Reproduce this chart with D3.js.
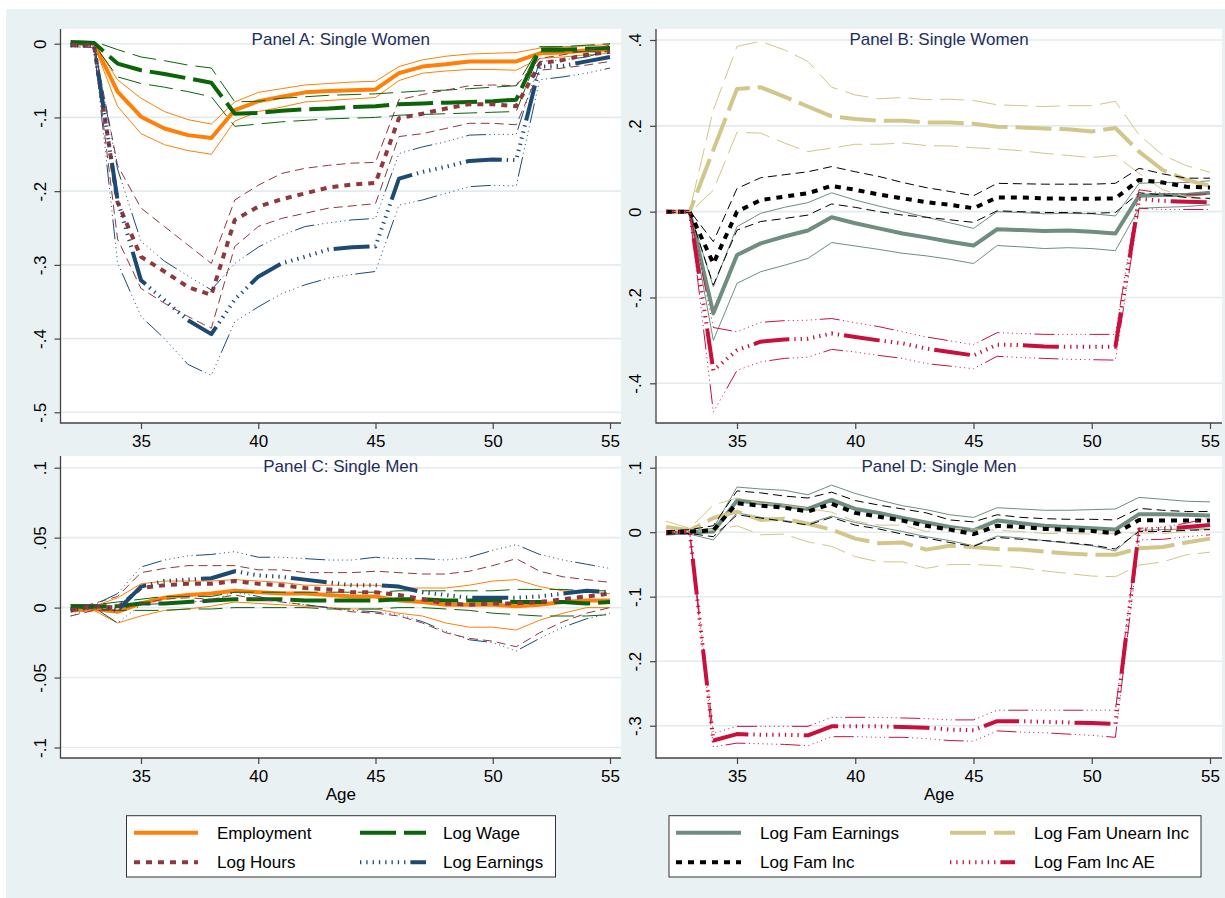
<!DOCTYPE html>
<html>
<head>
<meta charset="utf-8">
<script src="https://cdn.jsdelivr.net/npm/d3@7"></script>
<style>
  body { margin: 0; background: #fff; }
  svg { display: block; font-family: "Liberation Sans", Arial, Helvetica, sans-serif; }
</style>
</head>
<body>
<div id="chart"></div>
<script>

// Ages on the x axis (event time around the shock)
const ages = [32, 33, 34, 35, 36, 37, 38, 39, 40, 41, 42, 43, 44, 45, 46, 47, 48, 49, 50, 51, 52, 53, 54, 55];
const xTicks = [35, 40, 45, 50, 55];

const yTicksA = [0, -0.1, -0.2, -0.3, -0.4, -0.5];
const yTicksB = [0.4, 0.2, 0, -0.2, -0.4];
const yTicksC = [0.1, 0.05, 0, -0.05, -0.1];
const yTicksD = [0.1, 0, -0.1, -0.2, -0.3];

// Panel A: Single Women (own labour outcomes)
const empA    = [0, 0, -0.065, -0.099, -0.115, -0.124, -0.128, -0.090, -0.078, -0.072, -0.066, -0.064, -0.063, -0.062, -0.040, -0.031, -0.028, -0.024, -0.024, -0.024, -0.013, -0.012, -0.009, -0.008];
const empA_hi = [0.001, 0.001, -0.049, -0.074, -0.092, -0.103, -0.109, -0.079, -0.066, -0.061, -0.056, -0.054, -0.052, -0.051, -0.031, -0.022, -0.017, -0.014, -0.013, -0.012, -0.006, -0.004, -0.003, -0.001];
const empA_lo = [-0.001, -0.002, -0.085, -0.122, -0.137, -0.145, -0.150, -0.105, -0.092, -0.086, -0.079, -0.077, -0.075, -0.073, -0.050, -0.040, -0.037, -0.035, -0.035, -0.036, -0.020, -0.018, -0.015, -0.013];

const wageA    = [0.002, 0.001, -0.027, -0.036, -0.041, -0.047, -0.053, -0.095, -0.094, -0.091, -0.089, -0.088, -0.086, -0.085, -0.082, -0.081, -0.080, -0.079, -0.078, -0.076, -0.008, -0.008, -0.007, -0.006];
const wageA_hi = [0.004, 0.003, -0.008, -0.018, -0.023, -0.029, -0.033, -0.079, -0.078, -0.074, -0.072, -0.070, -0.069, -0.068, -0.066, -0.064, -0.063, -0.061, -0.059, -0.057, -0.004, -0.004, -0.002, 0.000];
const wageA_lo = [0.000, -0.001, -0.045, -0.054, -0.059, -0.065, -0.072, -0.112, -0.109, -0.106, -0.104, -0.102, -0.101, -0.100, -0.097, -0.096, -0.095, -0.094, -0.093, -0.092, -0.011, -0.011, -0.011, -0.011];

const hoursA    = [-0.002, -0.003, -0.215, -0.289, -0.309, -0.330, -0.341, -0.239, -0.221, -0.211, -0.203, -0.195, -0.191, -0.189, -0.101, -0.095, -0.088, -0.082, -0.082, -0.085, -0.027, -0.022, -0.015, -0.011];
const hoursA_hi = [0.000, -0.001, -0.165, -0.223, -0.248, -0.273, -0.298, -0.212, -0.192, -0.176, -0.169, -0.165, -0.162, -0.161, -0.076, -0.069, -0.063, -0.057, -0.056, -0.057, -0.020, -0.015, -0.009, -0.002];
const hoursA_lo = [-0.004, -0.005, -0.265, -0.332, -0.352, -0.370, -0.386, -0.275, -0.248, -0.237, -0.230, -0.223, -0.220, -0.217, -0.126, -0.122, -0.115, -0.108, -0.108, -0.110, -0.036, -0.033, -0.029, -0.024];

const earnA    = [-0.002, -0.003, -0.212, -0.321, -0.348, -0.375, -0.394, -0.347, -0.316, -0.298, -0.289, -0.279, -0.276, -0.275, -0.183, -0.174, -0.167, -0.159, -0.157, -0.158, -0.031, -0.030, -0.024, -0.018];
const earnA_hi = [0.000, -0.001, -0.170, -0.268, -0.295, -0.315, -0.334, -0.298, -0.276, -0.260, -0.248, -0.243, -0.239, -0.237, -0.149, -0.140, -0.133, -0.124, -0.123, -0.123, -0.024, -0.022, -0.018, -0.009];
const earnA_lo = [-0.004, -0.005, -0.297, -0.370, -0.400, -0.435, -0.450, -0.377, -0.357, -0.339, -0.327, -0.318, -0.313, -0.309, -0.219, -0.212, -0.203, -0.194, -0.192, -0.193, -0.049, -0.045, -0.040, -0.033];

// Panel B: Single Women (family income)
const famEarnB    = [0, 0, -0.237, -0.101, -0.074, -0.058, -0.044, -0.013, -0.027, -0.039, -0.051, -0.060, -0.070, -0.079, -0.041, -0.043, -0.045, -0.044, -0.047, -0.051, 0.037, 0.039, 0.039, 0.044];
const famEarnB_hi = [0.002, 0.002, -0.175, -0.035, -0.004, 0.010, 0.021, 0.044, 0.027, 0.013, 0.000, -0.013, -0.026, -0.039, 0.000, -0.002, -0.005, -0.004, -0.005, -0.010, 0.066, 0.068, 0.068, 0.072];
const famEarnB_lo = [-0.002, -0.002, -0.300, -0.167, -0.140, -0.125, -0.109, -0.072, -0.080, -0.088, -0.097, -0.103, -0.111, -0.121, -0.079, -0.082, -0.086, -0.084, -0.086, -0.091, 0.008, 0.010, 0.012, 0.016];

const unearnB    = [0, 0, 0.144, 0.286, 0.290, 0.268, 0.245, 0.222, 0.216, 0.212, 0.212, 0.208, 0.208, 0.205, 0.198, 0.196, 0.194, 0.192, 0.187, 0.195, 0.140, 0.097, 0.074, 0.060];
const unearnB_hi = [0.002, 0.002, 0.237, 0.385, 0.397, 0.377, 0.350, 0.290, 0.272, 0.263, 0.266, 0.261, 0.262, 0.259, 0.249, 0.247, 0.245, 0.247, 0.247, 0.257, 0.179, 0.132, 0.107, 0.092];
const unearnB_lo = [-0.002, -0.002, 0.050, 0.185, 0.183, 0.160, 0.140, 0.148, 0.157, 0.157, 0.160, 0.154, 0.153, 0.149, 0.146, 0.142, 0.136, 0.131, 0.126, 0.131, 0.089, 0.051, 0.035, 0.027];

const famIncB    = [0, 0, -0.121, 0.000, 0.027, 0.035, 0.043, 0.060, 0.051, 0.040, 0.031, 0.022, 0.016, 0.008, 0.033, 0.033, 0.031, 0.030, 0.030, 0.031, 0.074, 0.068, 0.058, 0.056];
const famIncB_hi = [0.002, 0.002, -0.070, 0.054, 0.079, 0.086, 0.093, 0.105, 0.093, 0.082, 0.068, 0.056, 0.047, 0.037, 0.066, 0.065, 0.064, 0.064, 0.064, 0.066, 0.101, 0.088, 0.078, 0.078];
const famIncB_lo = [-0.002, -0.002, -0.171, -0.043, -0.023, -0.016, -0.008, 0.018, 0.010, 0.000, -0.008, -0.013, -0.019, -0.025, 0.002, 0.000, -0.002, -0.002, -0.004, -0.002, 0.044, 0.039, 0.033, 0.031];

const aeB    = [0, 0, -0.370, -0.323, -0.303, -0.298, -0.296, -0.284, -0.292, -0.300, -0.307, -0.319, -0.327, -0.335, -0.310, -0.311, -0.314, -0.315, -0.315, -0.315, 0.030, 0.025, 0.023, 0.022];
const aeB_hi = [0.002, 0.002, -0.270, -0.280, -0.258, -0.254, -0.253, -0.249, -0.259, -0.268, -0.280, -0.292, -0.301, -0.310, -0.282, -0.284, -0.286, -0.286, -0.286, -0.286, 0.051, 0.043, 0.040, 0.041];
const aeB_lo = [-0.002, -0.002, -0.467, -0.370, -0.350, -0.342, -0.339, -0.321, -0.327, -0.335, -0.342, -0.354, -0.360, -0.366, -0.337, -0.340, -0.342, -0.344, -0.345, -0.346, 0.008, 0.005, 0.005, 0.005];

// Panel C: Single Men (own labour outcomes)
const empC    = [-0.002, -0.001, -0.003, 0.003, 0.007, 0.009, 0.010, 0.012, 0.011, 0.010, 0.010, 0.009, 0.008, 0.008, 0.005, 0.004, 0.002, 0.002, 0.002, 0.001, 0.002, 0.004, 0.005, 0.005];
const empC_hi = [0.000, 0.001, 0.007, 0.017, 0.019, 0.019, 0.019, 0.020, 0.019, 0.018, 0.016, 0.016, 0.016, 0.016, 0.014, 0.014, 0.014, 0.016, 0.019, 0.020, 0.015, 0.012, 0.011, 0.010];
const empC_lo = [-0.003, -0.002, -0.011, -0.006, -0.002, -0.001, 0.001, 0.004, 0.003, 0.002, 0.001, 0.000, -0.001, -0.001, -0.004, -0.006, -0.011, -0.014, -0.014, -0.016, -0.009, -0.004, 0.000, 0.000];

const wageC    = [0.001, 0.001, 0.001, 0.003, 0.003, 0.004, 0.005, 0.006, 0.006, 0.006, 0.005, 0.005, 0.005, 0.005, 0.006, 0.006, 0.005, 0.005, 0.005, 0.004, 0.004, 0.004, 0.003, 0.004];
const wageC_hi = [0.002, 0.002, 0.004, 0.006, 0.008, 0.008, 0.008, 0.011, 0.011, 0.011, 0.011, 0.011, 0.011, 0.011, 0.012, 0.012, 0.012, 0.012, 0.012, 0.013, 0.013, 0.013, 0.012, 0.012];
const wageC_lo = [0.000, -0.001, -0.002, -0.002, -0.002, -0.001, -0.001, 0.000, 0.000, 0.000, 0.000, -0.001, -0.001, -0.001, 0.000, 0.000, -0.001, -0.002, -0.004, -0.005, -0.006, -0.006, -0.006, -0.005];

const hoursC    = [-0.002, 0.001, 0.000, 0.014, 0.016, 0.017, 0.017, 0.019, 0.017, 0.016, 0.014, 0.013, 0.011, 0.011, 0.009, 0.006, 0.003, 0.002, 0.003, 0.003, 0.004, 0.006, 0.008, 0.010];
const hoursC_hi = [-0.001, 0.003, 0.008, 0.025, 0.028, 0.030, 0.030, 0.030, 0.027, 0.027, 0.025, 0.025, 0.025, 0.026, 0.025, 0.024, 0.024, 0.026, 0.030, 0.035, 0.026, 0.022, 0.020, 0.018];
const hoursC_lo = [-0.006, -0.002, -0.002, 0.003, 0.006, 0.007, 0.006, 0.009, 0.006, 0.004, 0.002, 0.000, -0.003, -0.004, -0.006, -0.011, -0.018, -0.022, -0.024, -0.028, -0.018, -0.010, -0.004, 0.000];

const earnC    = [-0.002, 0.001, -0.002, 0.015, 0.019, 0.020, 0.021, 0.026, 0.023, 0.022, 0.020, 0.018, 0.016, 0.016, 0.015, 0.011, 0.009, 0.007, 0.007, 0.007, 0.008, 0.010, 0.012, 0.011];
const earnC_hi = [0.000, 0.002, 0.010, 0.029, 0.034, 0.037, 0.038, 0.040, 0.036, 0.036, 0.035, 0.034, 0.034, 0.036, 0.035, 0.035, 0.034, 0.036, 0.041, 0.045, 0.038, 0.034, 0.031, 0.028];
const earnC_lo = [-0.006, 0.000, -0.011, 0.002, 0.003, 0.004, 0.005, 0.011, 0.008, 0.004, 0.002, 0.000, -0.002, -0.003, -0.005, -0.010, -0.017, -0.023, -0.025, -0.031, -0.022, -0.014, -0.008, -0.004];

// Panel D: Single Men (family income)
const famEarnD    = [-0.002, 0.000, 0.001, 0.049, 0.045, 0.041, 0.036, 0.050, 0.036, 0.030, 0.022, 0.015, 0.008, 0.003, 0.018, 0.014, 0.010, 0.008, 0.006, 0.004, 0.028, 0.028, 0.027, 0.026];
const famEarnD_hi = [0.001, 0.002, 0.006, 0.070, 0.067, 0.065, 0.058, 0.073, 0.060, 0.050, 0.041, 0.035, 0.027, 0.023, 0.038, 0.036, 0.034, 0.034, 0.035, 0.036, 0.054, 0.051, 0.048, 0.047];
const famEarnD_lo = [-0.004, -0.003, -0.012, 0.030, 0.023, 0.018, 0.013, 0.025, 0.015, 0.008, 0.001, -0.007, -0.013, -0.021, -0.006, -0.009, -0.013, -0.017, -0.021, -0.029, 0.003, 0.004, 0.005, 0.005];

const unearnD    = [0.008, 0.003, 0.022, 0.032, 0.019, 0.021, 0.013, 0.004, -0.010, -0.017, -0.016, -0.027, -0.021, -0.023, -0.026, -0.027, -0.030, -0.033, -0.035, -0.035, -0.025, -0.023, -0.016, -0.010];
const unearnD_hi = [0.017, 0.006, 0.042, 0.053, 0.045, 0.042, 0.037, 0.031, 0.017, 0.011, 0.011, 0.001, 0.006, 0.005, 0.003, 0.001, -0.002, -0.002, -0.003, -0.002, -0.001, -0.002, 0.001, 0.005];
const unearnD_lo = [0.003, 0.001, 0.003, 0.010, -0.004, -0.003, -0.015, -0.022, -0.038, -0.046, -0.046, -0.056, -0.050, -0.050, -0.052, -0.055, -0.060, -0.064, -0.068, -0.069, -0.051, -0.046, -0.035, -0.031];

const famIncD    = [0.000, 0.001, 0.003, 0.045, 0.041, 0.038, 0.032, 0.044, 0.030, 0.024, 0.018, 0.010, 0.004, -0.003, 0.010, 0.008, 0.005, 0.004, 0.002, -0.002, 0.019, 0.018, 0.018, 0.018];
const famIncD_hi = [0.002, 0.004, 0.010, 0.064, 0.061, 0.056, 0.053, 0.062, 0.049, 0.042, 0.036, 0.030, 0.019, 0.016, 0.027, 0.023, 0.021, 0.020, 0.020, 0.019, 0.037, 0.034, 0.032, 0.032];
const famIncD_lo = [-0.003, -0.002, -0.007, 0.027, 0.022, 0.017, 0.011, 0.023, 0.011, 0.005, -0.003, -0.009, -0.016, -0.022, -0.008, -0.011, -0.013, -0.016, -0.020, -0.026, 0.001, 0.001, 0.003, 0.004];

const aeD    = [0.000, 0.000, -0.323, -0.313, -0.314, -0.314, -0.315, -0.301, -0.301, -0.301, -0.302, -0.303, -0.306, -0.307, -0.293, -0.293, -0.294, -0.295, -0.296, -0.297, 0.004, 0.005, 0.008, 0.011];
const aeD_hi = [0.001, 0.001, -0.312, -0.301, -0.301, -0.301, -0.301, -0.287, -0.287, -0.287, -0.288, -0.289, -0.291, -0.291, -0.276, -0.276, -0.276, -0.276, -0.276, -0.276, 0.006, 0.008, 0.014, 0.022];
const aeD_lo = [-0.001, -0.001, -0.333, -0.327, -0.328, -0.329, -0.331, -0.317, -0.317, -0.318, -0.318, -0.320, -0.323, -0.324, -0.308, -0.310, -0.311, -0.313, -0.315, -0.318, -0.012, -0.011, -0.007, -0.004];

const legendLeft = [["Employment", "Log Wage"], ["Log Hours", "Log Earnings"]];
const legendRight = [["Log Fam Earnings", "Log Fam Unearn Inc"], ["Log Fam Inc", "Log Fam Inc AE"]];


// Line patterns (Stata-like): solid, longdash, dash, dots+longdash
const rep = (a, n) => d3.range(n).flatMap(() => a);
const LONG = "36,8", LONG_T = "24,8";
const DASH = "6,6", DASH_T = "9,5";
const DOTDASH = rep([1.3, 5], 8).concat([36, 5]).join(",");
const DOTDASH_T = rep([1, 3.5], 7).concat([20, 3.5]).join(",");

const styles = {
  "Employment":         { color: "#ff8008", dash: null, thin: null },
  "Log Wage":           { color: "#0a640a", dash: LONG, thin: LONG_T },
  "Log Hours":          { color: "#8f383e", dash: DASH, thin: DASH_T },
  "Log Earnings":       { color: "#1d4a73", dash: DOTDASH, thin: DOTDASH_T },
  "Log Fam Earnings":   { color: "#6f8e7f", dash: null, thin: null },
  "Log Fam Unearn Inc": { color: "#d2c68a", dash: LONG, thin: LONG_T },
  "Log Fam Inc":        { color: "#000000", dash: DASH, thin: DASH_T },
  "Log Fam Inc AE":     { color: "#c9103c", dash: DOTDASH, thin: DOTDASH_T },
};

const panels = [
  { title: "Panel A: Single Women", box: [60.5, 29, 621, 423], xr: [141, 610], yd: [-0.5, 0], yr: [412.3, 43.7],
    ticks: yTicksA, xTitle: false,
    series: [["Employment", empA, empA_lo, empA_hi], ["Log Wage", wageA, wageA_lo, wageA_hi],
             ["Log Hours", hoursA, hoursA_lo, hoursA_hi], ["Log Earnings", earnA, earnA_lo, earnA_hi]] },
  { title: "Panel B: Single Women", box: [656, 29, 1222, 423], xr: [737, 1210], yd: [-0.4, 0.4], yr: [383.3, 40],
    ticks: yTicksB, xTitle: false,
    series: [["Log Fam Earnings", famEarnB, famEarnB_lo, famEarnB_hi], ["Log Fam Unearn Inc", unearnB, unearnB_lo, unearnB_hi],
             ["Log Fam Inc", famIncB, famIncB_lo, famIncB_hi], ["Log Fam Inc AE", aeB, aeB_lo, aeB_hi]] },
  { title: "Panel C: Single Men", box: [60.5, 456, 621, 758], xr: [141, 610], yd: [-0.1, 0.1], yr: [747.5, 467.7],
    ticks: yTicksC, xTitle: true,
    series: [["Employment", empC, empC_lo, empC_hi], ["Log Wage", wageC, wageC_lo, wageC_hi],
             ["Log Hours", hoursC, hoursC_lo, hoursC_hi], ["Log Earnings", earnC, earnC_lo, earnC_hi]] },
  { title: "Panel D: Single Men", box: [656, 456, 1222, 758], xr: [737, 1210], yd: [-0.3, 0.1], yr: [725.7, 467.7],
    ticks: yTicksD, xTitle: true,
    series: [["Log Fam Earnings", famEarnD, famEarnD_lo, famEarnD_hi], ["Log Fam Unearn Inc", unearnD, unearnD_lo, unearnD_hi],
             ["Log Fam Inc", famIncD, famIncD_lo, famIncD_hi], ["Log Fam Inc AE", aeD, aeD_lo, aeD_hi]] },
];

const width = 1225, height = 898;
const fmt = d => d === 0 ? "0" : String(d).replace("0.", ".");

const svg = d3.select("#chart").append("svg")
  .attr("width", width)
  .attr("height", height);

// graph region background
svg.append("rect")
  .attr("x", 6).attr("y", 9)
  .attr("width", width - 6).attr("height", height - 9)
  .attr("fill", "#eaf1f3");

const drawPanel = (p) => {
  const [x0, y0, x1, y1] = p.box;
  const x = d3.scaleLinear().domain([35, 55]).range(p.xr);
  const y = d3.scaleLinear().domain(p.yd).range(p.yr);
  const g = svg.append("g");

  g.append("rect")
    .attr("x", x0).attr("y", y0)
    .attr("width", x1 - x0).attr("height", y1 - y0)
    .attr("fill", "#fff");

  // grid lines
  g.append("g")
    .selectAll("line")
    .data(p.ticks)
    .join("line")
    .attr("x1", x0).attr("x2", x1)
    .attr("y1", y).attr("y2", y)
    .attr("stroke", "#e3ebee")
    .attr("stroke-width", 1.6);

  g.append("text")
    .attr("x", (x0 + x1) / 2)
    .attr("y", y0 + 16)
    .attr("text-anchor", "middle")
    .attr("font-size", 17)
    .attr("fill", "#1e2d5c")
    .text(p.title);

  const line = d3.line()
    .x((d, i) => x(ages[i]))
    .y(d => y(d));

  // each series: two thin CI lines, then the thick estimate
  p.series.forEach(([name, est, lo, hi]) => {
    const st = styles[name];
    [lo, hi].forEach(ci => {
      g.append("path")
        .attr("d", line(ci))
        .attr("fill", "none")
        .attr("stroke", st.color)
        .attr("stroke-width", 1)
        .attr("stroke-dasharray", st.thin);
    });
    g.append("path")
      .attr("d", line(est))
      .attr("fill", "none")
      .attr("stroke", st.color)
      .attr("stroke-width", 4)
      .attr("stroke-linejoin", "round")
      .attr("stroke-dasharray", st.dash);
  });

  // axis lines
  g.append("path")
    .attr("d", `M${x0},${y0}V${y1}H${x1}`)
    .attr("fill", "none")
    .attr("stroke", "#444")
    .attr("stroke-width", 1.3);

  // y axis
  g.append("g")
    .attr("transform", `translate(${x0},0)`)
    .call(d3.axisLeft(y).tickValues(p.ticks).tickSize(6).tickFormat(fmt))
    .call(a => a.select(".domain").remove())
    .call(a => a.selectAll("line").attr("stroke", "#444").attr("stroke-width", 1.2))
    .call(a => a.selectAll("text")
      .attr("transform", "rotate(-90)")
      .attr("x", 0).attr("y", -15).attr("dy", 0)
      .attr("text-anchor", "middle")
      .attr("fill", "#000")
      .attr("font-size", 17)
      .attr("font-family", null));

  // x axis
  g.append("g")
    .attr("transform", `translate(0,${y1})`)
    .call(d3.axisBottom(x).tickValues(xTicks).tickSize(6))
    .call(a => a.select(".domain").remove())
    .call(a => a.selectAll("line").attr("stroke", "#444").attr("stroke-width", 1.2))
    .call(a => a.selectAll("text")
      .attr("y", 12)
      .attr("fill", "#000")
      .attr("font-size", 17)
      .attr("font-family", null));

  if (p.xTitle) {
    g.append("text")
      .attr("x", (x0 + x1) / 2)
      .attr("y", y1 + 42)
      .attr("text-anchor", "middle")
      .attr("font-size", 17)
      .text("Age");
  }
};

panels.forEach(drawPanel);

// legends
const drawLegend = (rows, box, cols) => {
  const [lx0, ly0, lx1, ly1] = box;
  const g = svg.append("g");
  g.append("rect")
    .attr("x", lx0).attr("y", ly0)
    .attr("width", lx1 - lx0).attr("height", ly1 - ly0)
    .attr("fill", "#fff")
    .attr("stroke", "#333")
    .attr("stroke-width", 1);

  rows.forEach((row, r) => {
    const ly = ly0 + 17 + r * 29.6;
    row.forEach((name, c) => {
      const st = styles[name];
      const [s0, s1, tx] = cols[c];
      g.append("line")
        .attr("x1", lx0 + s0).attr("x2", lx0 + s1)
        .attr("y1", ly).attr("y2", ly)
        .attr("stroke", st.color)
        .attr("stroke-width", 4)
        .attr("stroke-dasharray", st.dash);
      g.append("text")
        .attr("x", lx0 + tx)
        .attr("y", ly + 6)
        .attr("font-size", 17)
        .text(name);
    });
  });
};

drawLegend(legendLeft, [126.5, 815.7, 555.5, 877], [[7.5, 71.5, 90.5], [233.5, 299.5, 316.5]]);
drawLegend(legendRight, [669, 815.7, 1201, 877], [[7, 72, 91], [281, 346, 365]]);

</script>
</body>
</html>
